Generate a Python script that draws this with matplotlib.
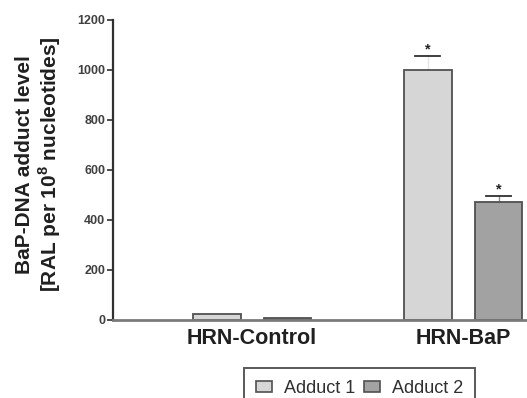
# -*- coding: utf-8 -*-
# BaP-DNA adduct levels, HRN control vs HRN BaP

import numpy as np
import matplotlib
matplotlib.use('Agg')
import matplotlib.pyplot as plt

groups = ['HRN-Control', 'HRN-BaP']
series = ['Adduct 1', 'Adduct 2']
adduct1 = [24, 1000]
adduct2 = [8, 472]
adduct1_err = [0, 56]
adduct2_err = [0, 24]
signif1 = ['', '*']
signif2 = ['', '*']
yticks = [0, 200, 400, 600, 800, 1000, 1200]

plt.rcParams['font.family'] = ['Liberation Sans', 'DejaVu Sans']
plt.rcParams['mathtext.fontset'] = 'custom'
plt.rcParams['mathtext.rm'] = 'Liberation Sans:bold'
plt.rcParams['mathtext.bf'] = 'Liberation Sans:bold'

fig = plt.figure(figsize=(5.27, 3.98), dpi=100)
ax = fig.add_axes([113/527, 78/398, 1 - 113/527, 300/398])

x = np.arange(len(groups))
w = 0.227
off = 0.168
colors = ['#d6d6d6', '#a2a2a2']
stem_colors = ['#e4e4e4', '#8a8a8a']
edge = '#505050'

for vals, errs, marks, dx, c, sc in [(adduct1, adduct1_err, signif1, -off, colors[0], stem_colors[0]),
                                      (adduct2, adduct2_err, signif2, off, colors[1], stem_colors[1])]:
    xs = x + dx
    ax.bar(xs, vals, w, color=c, edgecolor=edge, linewidth=1.3, zorder=2)
    for xi, v, e, m in zip(xs, vals, errs, marks):
        if e > 0:
            # upper error bar only, with cap
            ax.plot([xi, xi], [v, v + e], color=sc, lw=1.0, zorder=1)
            ax.plot([xi - 0.058, xi + 0.058], [v + e, v + e], color='#303030',
                    lw=1.3, zorder=3)
        if m:
            ax.text(xi, v + e + 11, m, ha='center', va='baseline',
                    fontsize=10.5, fontweight='bold', color='#222222')

ax.set_xlim(-0.659, 1.303)
ax.set_ylim(0, 1200)
ax.set_yticks(yticks)
ax.set_yticklabels([str(t) for t in yticks], fontsize=9, fontweight='bold',
                   color='#404040')
ax.tick_params(axis='y', length=4, width=1.2, color='#303030', pad=1.5)
ax.set_xticks([])

ax.spines['top'].set_visible(False)
ax.spines['right'].set_visible(False)
ax.spines['left'].set_color('#303030')
ax.spines['left'].set_linewidth(1.6)
ax.spines['bottom'].set_color('#7a7a7a')
ax.spines['bottom'].set_linewidth(2.0)

for xi, g in zip(x, groups):
    ax.text(xi, -0.06, g, transform=ax.get_xaxis_transform(), ha='center',
            va='center', fontsize=15.5, fontweight='bold', color='#202020')

fig.text(25/527, 1 - 165/398, 'BaP-DNA adduct level', rotation=90, ha='center',
         va='center', fontsize=15, fontweight='bold', color='#202020')
fig.text(50/527, 1 - 164/398, r'[RAL per 10$^{\mathregular{8}}$ nucleotides]',
         rotation=90, ha='center', va='center', fontsize=15,
         fontweight='bold', color='#202020')

handles = [plt.Rectangle((0, 0), 1, 1, facecolor=c, edgecolor=edge, lw=1.2)
           for c in colors]
leg = fig.legend(handles, series, loc='upper left',
                 bbox_to_anchor=(244/527, 1 - 368/398), ncol=2, frameon=True,
                 fancybox=False, fontsize=13, handlelength=0.9,
                 handleheight=0.55, handletextpad=0.65, columnspacing=0.5,
                 borderpad=0.65, borderaxespad=0)
leg.get_frame().set_edgecolor('#303030')
leg.get_frame().set_linewidth(1.4)
for t in leg.get_texts():
    t.set_color('#303030')

fig.savefig('out.png', dpi=100)
